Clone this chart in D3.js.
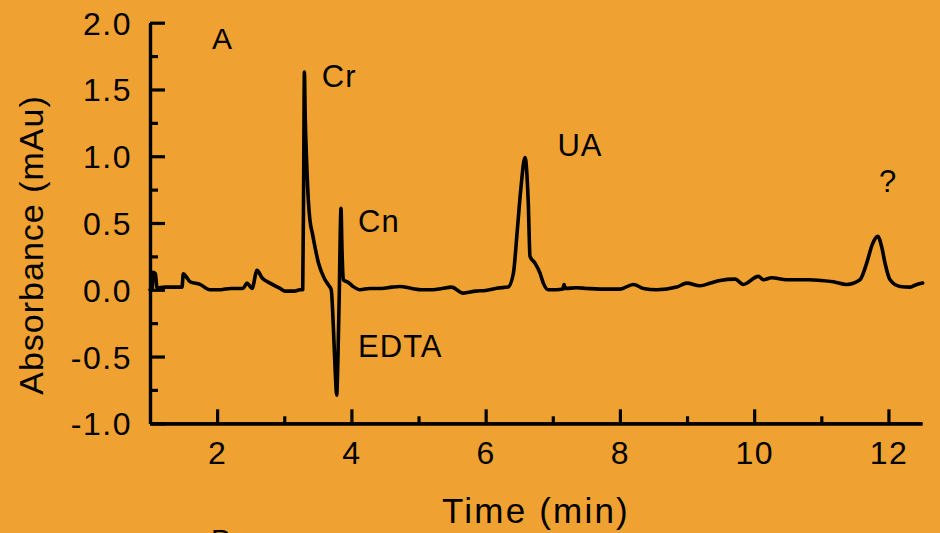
<!DOCTYPE html>
<html>
<head>
<meta charset="utf-8">
<script src="https://cdn.jsdelivr.net/npm/d3@7"></script>
<style>
  html, body { margin: 0; padding: 0; background: #EFA232; }
  svg { display: block; }
  text { font-family: "Liberation Sans", Arial, sans-serif; fill: #000; }
</style>
</head>
<body>
<svg id="chart" width="940" height="533"></svg>
<script>
// ---- data ----
const time = [1.0, 1.03, 1.045, 1.08, 1.104, 1.22, 1.35, 1.477, 1.496, 1.55, 1.596, 1.745, 1.894, 2.05, 2.2, 2.385, 2.445, 2.52, 2.594, 2.668, 2.788, 2.937, 3.011, 3.15, 3.234, 3.275,
  3.29, 3.30, 3.312, 3.334, 3.36, 3.383, 3.42, 3.458, 3.51, 3.558, 3.607, 3.66, 3.70, 3.731, 3.76, 3.781, 3.80, 3.82, 3.835, 3.845, 3.86, 3.88, 3.954, 4.024, 4.128,
  4.277, 4.45, 4.6, 4.724, 4.9, 5.05, 5.216, 5.35, 5.494, 5.663, 5.85, 6.0, 6.184, 6.333, 6.412, 6.472, 6.523, 6.586, 6.635, 6.661, 6.735, 6.81, 6.859, 6.933,
  7.05, 7.15, 7.167, 7.19, 7.35, 7.5, 7.703, 8.001, 8.2, 8.35, 8.548, 8.846, 8.995, 9.193, 9.35, 9.491, 9.715, 9.838, 10.062, 10.136, 10.261, 10.485, 10.806,
  11.0, 11.179, 11.378, 11.576, 11.676, 11.76, 11.84, 11.9, 11.949, 12.024, 12.173, 12.322, 12.421, 12.51];
const absorbance = [0.0, 0.0, 0.13, 0.12, 0.015, 0.02, 0.02, 0.02, 0.12, 0.09, 0.06, 0.04, 0.0, 0.0, 0.01, 0.01, 0.05, 0.01, 0.145, 0.09, 0.05, 0.01, -0.01, -0.01, 0.0, 0.0,
  0.9, 1.63, 1.3, 0.95, 0.66, 0.52, 0.42, 0.32, 0.2, 0.13, 0.075, 0.035, 0.0, -0.275, -0.62, -0.79, -0.5, -0.02, 0.45, 0.61, 0.3, 0.075, 0.055, 0.025, 0.0,
  0.01, 0.01, 0.02, 0.025, 0.01, 0.0, 0.0, 0.01, 0.02, -0.025, -0.01, -0.005, 0.013, 0.02, 0.12, 0.45, 0.75, 0.99, 0.65, 0.25, 0.2, 0.125, 0.05, 0.0,
  0.0, 0.005, 0.04, 0.01, 0.015, 0.01, 0.005, 0.005, 0.04, 0.01, 0.0, 0.02, 0.05, 0.03, 0.05, 0.07, 0.08, 0.04, 0.1, 0.075, 0.09, 0.075, 0.075,
  0.07, 0.06, 0.04, 0.075, 0.2, 0.34, 0.4, 0.32, 0.2, 0.075, 0.025, 0.02, 0.04, 0.05];

const xMajorTicks = [2, 4, 6, 8, 10, 12];
const xMinorTicks = [3, 5, 7, 9, 11];
const yMajorTicks = [-1.0, -0.5, 0.0, 0.5, 1.0, 1.5, 2.0];
const yMinorTicks = [-0.75, -0.25, 0.25, 0.75, 1.25, 1.75];

const peakLabels = ["Cr", "Cn", "EDTA", "UA", "?"];
const peakLabelTime = [3.56, 4.1, 4.1, 7.07, 11.86];
const peakLabelAbs = [1.52, 0.43, -0.5, 1.005, 0.735];

const panelLabels = ["A", "B"];

// ---- layout ----
const svg = d3.select("#chart");
const W = 940, H = 533;
svg.append("rect").attr("width", W).attr("height", H).attr("fill", "#EFA232");

const x = d3.scaleLinear().domain([1, 12.5]).range([150, 922]);
const y = d3.scaleLinear().domain([-1, 2]).range([423.3, 22.7]);

// trace
const line = d3.line()
  .x((d, i) => x(time[i]))
  .y((d, i) => y(absorbance[i]))
  .curve(d3.curveMonotoneX);
svg.append("path")
  .attr("d", line(time))
  .attr("fill", "none")
  .attr("stroke", "#000")
  .attr("stroke-width", 3.6)
  .attr("stroke-linejoin", "round")
  .attr("stroke-linecap", "round");

// axes
const axisStroke = 3.2;
const fmtY = v => d3.format(".1f")(v).replace("\u2212", "-");
const xAxisMajor = d3.axisBottom(x).tickValues(xMajorTicks).tickSizeInner(-14).tickSizeOuter(0).tickFormat(d3.format("d")).tickPadding(0);
const xAxisMinor = d3.axisBottom(x).tickValues(xMinorTicks).tickSizeInner(-7).tickSizeOuter(0).tickFormat("");

const gx = svg.append("g").attr("transform", `translate(0,${y(-1)})`);
gx.call(xAxisMajor);
gx.append("g").call(xAxisMinor);
const yAxisMajor = d3.axisLeft(y).tickValues(yMajorTicks).tickSizeInner(-15).tickSizeOuter(0).tickFormat(fmtY).tickPadding(0);
const yAxisMinor = d3.axisLeft(y).tickValues(yMinorTicks).tickSizeInner(-8).tickSizeOuter(0).tickFormat("");
const gy = svg.append("g").attr("transform", `translate(${x(1)},0)`);
gy.call(yAxisMajor);
gy.append("g").call(yAxisMinor);

svg.selectAll(".domain").attr("stroke", "#000").attr("stroke-width", axisStroke);
svg.selectAll(".tick line").attr("stroke", "#000").attr("stroke-width", axisStroke);

gx.selectAll(".tick text")
  .attr("font-size", 32).attr("letter-spacing", "1.5px")
  .attr("y", 41).attr("dy", 0)
  .attr("font-family", "Liberation Sans, Arial, sans-serif");
gy.selectAll(".tick text")
  .attr("font-size", 32).attr("letter-spacing", "1.5px")
  .attr("x", -18).attr("dy", "0.36em")
  .attr("font-family", "Liberation Sans, Arial, sans-serif");
svg.selectAll(".tick text").attr("fill", "#000");

// axis titles
svg.append("text")
  .attr("x", 536).attr("y", 523)
  .attr("text-anchor", "middle")
  .attr("font-size", 35).attr("letter-spacing", "2.2px")
  .text("Time (min)");
svg.append("text")
  .attr("transform", "translate(43,245) rotate(-90)")
  .attr("text-anchor", "middle")
  .attr("font-size", 34).attr("letter-spacing", "1px")
  .text("Absorbance (mAu)");

// peak labels
svg.selectAll(".peak").data(peakLabels).enter().append("text")
  .attr("class", "peak")
  .attr("x", (d, i) => x(peakLabelTime[i]))
  .attr("y", (d, i) => y(peakLabelAbs[i]))
  .attr("font-size", 31).attr("letter-spacing", "1px")
  .text(d => d);

// panel labels
svg.append("text").attr("x", 212).attr("y", 49).attr("font-size", 30).text(panelLabels[0]);
svg.append("text").attr("x", 211).attr("y", 550).attr("font-size", 30).text(panelLabels[1]);
</script>
</body>
</html>
